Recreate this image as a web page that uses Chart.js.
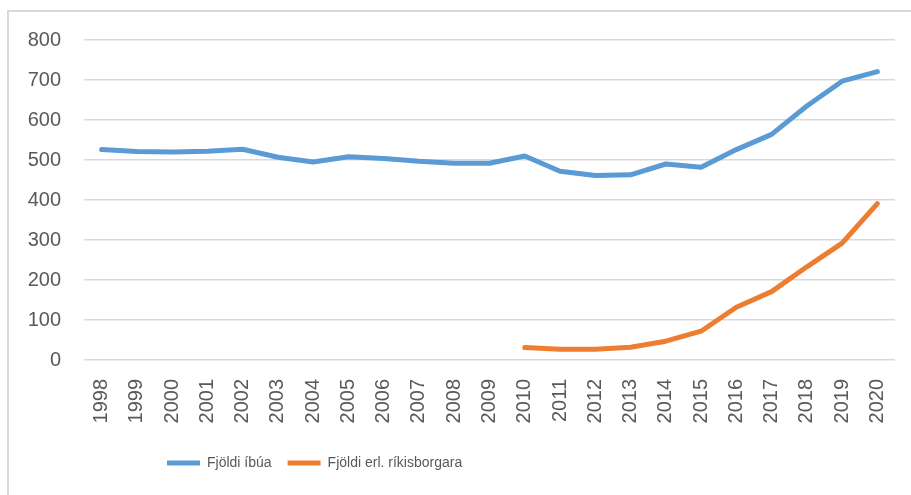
<!DOCTYPE html>
<html>
<head>
<meta charset="utf-8">
<script src="https://cdn.jsdelivr.net/npm/chart.js@4"></script>
<style>
    body { margin: 0; background: #fff; }
    #wrap { position: relative; width: 911px; height: 495px; overflow: hidden; }
    #frame { position: absolute; left: 7px; top: 10px; width: 920px; height: 500px; border: 2px solid #d9d9d9; }
    canvas { position: absolute; left: 0; top: 0; }
</style>
</head>
<body>
<div id="wrap">
    <div id="frame"></div>
    <canvas id="chart" width="911" height="495"></canvas>
</div>
<script>
const years = ['1998','1999','2000','2001','2002','2003','2004','2005','2006','2007','2008','2009',
    '2010','2011','2012','2013','2014','2015','2016','2017','2018','2019','2020'];
const ibuar = [526, 521, 520, 522, 527, 507, 495, 508, 504, 497, 492, 492,
    510, 472, 461, 463, 490, 482, 526, 564, 635, 697, 721];
const erlendir = [null, null, null, null, null, null, null, null, null, null, null, null,
    31, 27, 27, 32, 47, 72, 132, 171, 233, 292, 391];

const textColor = '#595959';
const gridColor = '#d9d9d9';
const tickFont = { family: "'Liberation Sans', Arial, sans-serif", size: 20 };

// legend sits left of centre in the original, move it there
const legendShift = {
    id: 'legendShift',
    afterLayout(chart) {
        const lg = chart.legend;
        const w = lg.right - lg.left;
        lg.left = 151;
        lg.right = lg.left + w;
    }
};

new Chart(document.getElementById('chart'), {
    type: 'line',
    data: {
        labels: years,
        datasets: [
            { label: 'Fjöldi íbúa', data: ibuar, borderColor: '#5b9bd5', backgroundColor: '#5b9bd5',
              borderWidth: 5, pointRadius: 0, tension: 0, borderCapStyle: 'round', borderJoinStyle: 'round' },
            { label: 'Fjöldi erl. ríkisborgara', data: erlendir, borderColor: '#ed7d31', backgroundColor: '#ed7d31',
              borderWidth: 5, pointRadius: 0, tension: 0, borderCapStyle: 'round', borderJoinStyle: 'round' }
        ]
    },
    options: {
        responsive: false,
        animation: false,
        layout: { padding: { top: 40, right: 16, bottom: 15, left: 0 } },
        plugins: {
            tooltip: { enabled: false },
            legend: {
                position: 'bottom',
                align: 'start',
                labels: {
                    usePointStyle: true, pointStyle: 'line', pointStyleWidth: 33,
                    color: textColor, padding: 16,
                    font: { family: "'Liberation Sans Narrow', 'Liberation Sans', sans-serif", size: 14 }
                }
            }
        },
        scales: {
            x: {
                offset: true,
                grid: { display: false, drawTicks: false },
                border: { display: false },
                ticks: { color: textColor, font: tickFont, minRotation: 90, maxRotation: 90, padding: 19, autoSkip: false },
                afterFit: s => { s.height = 80; s.paddingLeft = 0; s.paddingRight = 0; }
            },
            y: {
                min: 0, max: 800,
                grid: { color: gridColor, lineWidth: 1.5, drawTicks: false },
                border: { display: false },
                ticks: { stepSize: 100, color: textColor, font: tickFont, padding: 23 },
                afterFit: s => { s.width = 84; s.paddingTop = 0; s.paddingBottom = 0; }
            }
        }
    },
    plugins: [legendShift]
});
</script>
</body>
</html>
